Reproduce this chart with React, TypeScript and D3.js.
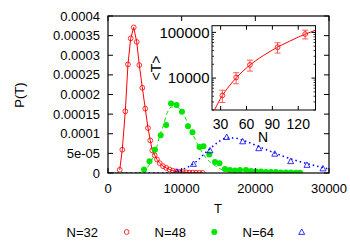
import React from 'react';
import * as d3 from 'd3';

// histogram P(T), N=32 (open circles, solid line through points)
const tN32 = [1590, 1940, 2350, 2710, 3080, 3490, 3900, 4250, 4660, 5060, 5430, 5740, 6010, 6340, 6650, 7020, 7460, 7900, 8350, 8800, 9250, 9700, 10150, 10600, 11050, 11500, 11950, 12400, 12850];
const pN32 = [8.2e-6, 5.93e-5, 1.572e-4, 2.766e-4, 3.43e-4, 3.71e-4, 3.34e-4, 2.75e-4, 2.17e-4, 1.64e-4, 1.145e-4, 8.3e-5, 5.75e-5, 4.5e-5, 3.45e-5, 2.5e-5, 1.74e-5, 1.3e-5, 9e-6, 6e-6, 4e-6, 3e-6, 2e-6, 1.5e-6, 1e-6, 1e-6, 5e-7, 5e-7, 3e-7];

// N=48 (filled circles)
const tN48 = [4890, 5630, 6380, 7150, 7900, 8550, 9300, 10040, 10860, 11470, 12420, 12960, 13750, 14520, 15130, 15880, 16560, 17240, 17920, 18730, 19410, 20090, 20770, 21450, 22130, 22800, 23480, 24160, 24840, 25520, 26060];
const pN48 = [8.9e-6, 3.0e-5, 5.9e-5, 9.6e-5, 1.22e-4, 1.77e-4, 1.73e-4, 1.56e-4, 1.19e-4, 1.04e-4, 6.6e-5, 6.8e-5, 4.7e-5, 2.8e-5, 2.5e-5, 1.0e-5, 7.7e-6, 6.4e-6, 7.7e-6, 7.7e-6, 5e-6, 3.8e-6, 3.8e-6, 2.5e-6, 2.5e-6, 2.5e-6, 1.3e-6, 1.3e-6, 1.3e-6, 8e-7, 8e-7];
// N=48 fitted curve (dashed)
const tFit48 = [0, 4500, 5000, 5500, 6000, 6500, 7000, 7500, 7970, 8650, 9330, 10000, 10760, 11580, 12260, 13400, 14290, 15200, 16110, 17240, 19270, 26000];
const pFit48 = [0, 0, 5e-6, 1.8e-5, 3.6e-5, 5.8e-5, 9.5e-5, 1.2e-4, 1.5e-4, 1.68e-4, 1.68e-4, 1.58e-4, 1.3e-4, 9.6e-5, 7.0e-5, 3.6e-5, 2.2e-5, 1.07e-5, 4.6e-6, 1.3e-6, 0, 0];

// N=64 (triangles)
const tN64 = [9370, 11600, 13850, 16110, 18280, 20460, 22640, 24800, 27010, 29180];
const pN64 = [3e-6, 2.3e-5, 5.75e-5, 9.15e-5, 8.05e-5, 6.3e-5, 4.9e-5, 3.0e-5, 2.05e-5, 1.15e-5];
// N=64 fitted curve (dotted)
const tFit64 = [0, 8400, 9770, 11580, 13850, 14970, 16110, 17240, 18370, 20630, 22900, 25150, 27420, 30000];
const pFit64 = [0, 0, 6.4e-6, 2.35e-5, 6.2e-5, 7.9e-5, 8.9e-5, 8.9e-5, 8.3e-5, 6.6e-5, 4.9e-5, 3.4e-5, 2.2e-5, 1.0e-5];

// inset: mean T vs N
const nInset = [32, 48, 64, 96, 128];
const tMean = [4170, 10300, 19400, 47200, 91800];
const tErr = [1250, 2800, 5200, 12000, 20000];
const nCurve = [22.9, 30, 40, 50, 60, 70, 80, 90, 100, 110, 120, 130, 140];
const tCurve = [2000, 3600, 6700, 11000, 16700, 23500, 31500, 41000, 52000, 64000, 79000, 94000, 112000];

const xTicks = [0, 10000, 20000, 30000];
const yTicks = [0, 5e-5, 1e-4, 1.5e-4, 2e-4, 2.5e-4, 3e-4, 3.5e-4, 4e-4];
const yTickLabels = ['0', '5e-05', '0.0001', '0.00015', '0.0002', '0.00025', '0.0003', '0.00035', '0.0004'];
const insetXTicks = [30, 60, 90, 120];
const insetYMajor = [10000, 100000];
const insetYLabels = ['10000', '100000'];

const legend = ['N=32', 'N=48', 'N=64'];

const RED = '#ff0000';
const GREEN = '#00e600';
const BLUE = '#0000ff';
const FONT = 'Liberation Sans, Arial, Helvetica, sans-serif';

export default function App() {
  const x = d3.scaleLinear().domain([0, 30000]).range([108, 329]);
  const y = d3.scaleLinear().domain([0, 0.0004]).range([173, 16]);

  const ix = d3.scaleLinear().domain([20, 140]).range([212, 315.5]);
  const iy = d3.scaleLog().domain([2000, 140000]).range([110, 25.7]);

  const line = d3.line<[number, number]>().x(d => x(d[0])).y(d => y(d[1]));
  const smooth = d3.line<[number, number]>().x(d => x(d[0])).y(d => y(d[1])).curve(d3.curveMonotoneX);
  const insetLine = d3.line<[number, number]>().x(d => ix(d[0])).y(d => iy(d[1])).curve(d3.curveMonotoneX);

  const red = tN32.map((t, i) => [t, pN32[i]] as [number, number]);
  const fit48 = tFit48.map((t, i) => [t, pFit48[i]] as [number, number]);
  const fit64 = tFit64.map((t, i) => [t, pFit64[i]] as [number, number]);
  const curve = nCurve.map((n, i) => [n, tCurve[i]] as [number, number]);

  const minorTicks = iy.ticks().filter(v => !insetYMajor.includes(v));

  const tri = (cx: number, cy: number, s = 3) =>
    `M${cx},${cy - s}L${cx + s},${cy + s * 0.8}L${cx - s},${cy + s * 0.8}Z`;

  return (
    <svg width={350} height={245} style={{ position: 'absolute', left: 0, top: 0, background: '#fff' }}
      fontFamily={FONT} fontSize={13}>
      <defs>
        <clipPath id="main"><rect x={108} y={16} width={221} height={157} /></clipPath>
      </defs>
      <g clipPath="url(#main)">
        <path d={smooth(fit64) || ''} fill="none" stroke={BLUE} strokeWidth={1.5} strokeDasharray="1.5,3" />
        <path d={smooth(fit48) || ''} fill="none" stroke={GREEN} strokeWidth={1} strokeDasharray="4,3" />
        <path d={line(red) || ''} fill="none" stroke={RED} strokeWidth={1} />
        {tN32.map((t, i) => (
          <circle key={'r' + i} cx={x(t)} cy={y(pN32[i])} r={2.4} fill="none" stroke={RED} strokeWidth={0.8} />
        ))}
        {tN48.map((t, i) => (
          <circle key={'g' + i} cx={x(t)} cy={y(pN48[i])} r={3} fill={GREEN} />
        ))}
        {tN64.map((t, i) => (
          <path key={'b' + i} d={tri(x(t), y(pN64[i]))} fill="none" stroke={BLUE} strokeWidth={0.8} />
        ))}
      </g>

      {/* main frame and ticks */}
      <rect x={108} y={16} width={221} height={157} fill="none" stroke="#000" strokeWidth={1.2} />
      {yTicks.map((v, i) => (
        <g key={'yt' + i}>
          <line x1={108} x2={113} y1={y(v)} y2={y(v)} stroke="#000" />
          <line x1={324} x2={329} y1={y(v)} y2={y(v)} stroke="#000" />
          <text x={100} y={y(v)} dy="0.35em" textAnchor="end">{yTickLabels[i]}</text>
        </g>
      ))}
      {xTicks.map((v, i) => (
        <g key={'xt' + i}>
          <line x1={x(v)} x2={x(v)} y1={173} y2={168} stroke="#000" />
          <line x1={x(v)} x2={x(v)} y1={16} y2={21} stroke="#000" />
          <text x={x(v)} y={188} dy="0.35em" textAnchor="middle">{v}</text>
        </g>
      ))}
      <text x={218} y={208} dy="0.35em" textAnchor="middle">T</text>
      <text transform="translate(19,95) rotate(-90)" dy="0.35em" textAnchor="middle">P(T)</text>

      {/* inset */}
      <rect x={212} y={25.7} width={103.5} height={84.3} fill="#fff" stroke="#000" strokeWidth={1} />
      <defs>
        <clipPath id="inset"><rect x={212} y={25.7} width={103.5} height={84.3} /></clipPath>
      </defs>
      <g clipPath="url(#inset)">
        <path d={insetLine(curve) || ''} fill="none" stroke={RED} strokeWidth={1} />
        {nInset.map((n, i) => {
          const cx = ix(n);
          const y1 = iy(tMean[i] + tErr[i]);
          const y2 = iy(tMean[i] - tErr[i]);
          return (
            <g key={'e' + i} stroke="#ff5a5a" strokeWidth={1} fill="none">
              <line x1={cx} x2={cx} y1={y1} y2={y2} />
              <line x1={cx - 3} x2={cx + 3} y1={y1} y2={y1} />
              <line x1={cx - 3} x2={cx + 3} y1={y2} y2={y2} />
              <circle cx={cx} cy={iy(tMean[i])} r={2.4} stroke={RED} strokeWidth={0.8} />
            </g>
          );
        })}
      </g>
      {insetXTicks.map(v => (
        <g key={'ixt' + v}>
          <line x1={ix(v)} x2={ix(v)} y1={110} y2={106} stroke="#000" />
          <line x1={ix(v)} x2={ix(v)} y1={25.7} y2={29.7} stroke="#000" />
          <text x={ix(v)} y={124} dy="0.35em" textAnchor="middle" fontSize={14}>{v}</text>
        </g>
      ))}
      {insetYMajor.map((v, i) => (
        <g key={'iyt' + v}>
          <line x1={212} x2={216} y1={iy(v)} y2={iy(v)} stroke="#000" />
          <line x1={311.5} x2={315.5} y1={iy(v)} y2={iy(v)} stroke="#000" />
          <text x={209.5} y={iy(v)} dy="0.35em" textAnchor="end" fontSize={15}>{insetYLabels[i]}</text>
        </g>
      ))}
      {minorTicks.map((v, i) => (
        <g key={'im' + i}>
          <line x1={212} x2={214} y1={iy(v)} y2={iy(v)} stroke="#000" strokeWidth={0.8} />
          <line x1={313.5} x2={315.5} y1={iy(v)} y2={iy(v)} stroke="#000" strokeWidth={0.8} />
        </g>
      ))}
      <text x={263} y={137} dy="0.35em" textAnchor="middle" fontSize={14}>N</text>
      <text transform="translate(156,68) rotate(-90)" dy="0.35em" textAnchor="middle" fontSize={14}>&lt;T&gt;</text>

      {/* legend */}
      {legend.map((s, i) => (
        <text key={s} x={98 + i * 88} y={232} dy="0.35em" textAnchor="end">{s}</text>
      ))}
      <circle cx={126.7} cy={232} r={2.4} fill="none" stroke={RED} strokeWidth={0.8} />
      <circle cx={214.3} cy={232} r={3} fill={GREEN} />
      <path d={tri(301.7, 232)} fill="none" stroke={BLUE} strokeWidth={0.8} />
    </svg>
  );
}
